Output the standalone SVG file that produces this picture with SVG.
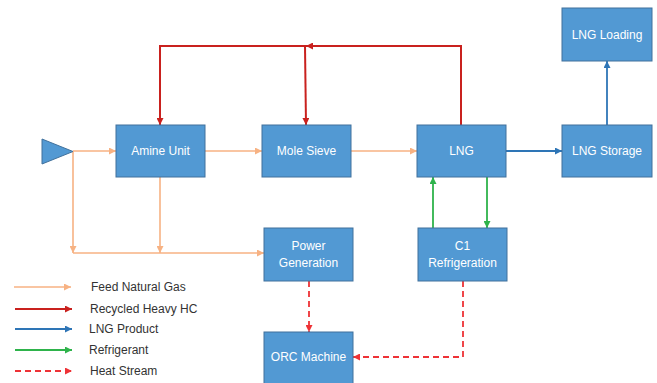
<svg xmlns="http://www.w3.org/2000/svg" width="657" height="383" viewBox="0 0 657 383">
<defs>
<style>
.box{fill:#5299D3;stroke:#41719C;stroke-width:1}
.lbl{font-family:"Liberation Sans",Arial,sans-serif;font-size:12px;fill:#FFFFFF;text-anchor:middle;dominant-baseline:central}
.leg{font-family:"Liberation Sans",Arial,sans-serif;font-size:12px;fill:#333333;dominant-baseline:central}
.feed{stroke:#F7B283;stroke-width:1.6;fill:none}
.rec{stroke:#C9211E;stroke-width:2;fill:none}
.prod{stroke:#2E75B6;stroke-width:1.8;fill:none}
.ref{stroke:#2EB34B;stroke-width:1.8;fill:none}
.heat{stroke:#EE3236;stroke-width:1.8;fill:none;stroke-dasharray:6,4}
</style>
<marker id="aF" viewBox="0 0 10 10" refX="10" refY="5" markerWidth="7" markerHeight="7" markerUnits="userSpaceOnUse" orient="auto"><path d="M0,0 L10,5 L0,10 z" fill="#F7B283"/></marker>
<marker id="aR" viewBox="0 0 10 10" refX="10" refY="5" markerWidth="7" markerHeight="7" markerUnits="userSpaceOnUse" orient="auto"><path d="M0,0 L10,5 L0,10 z" fill="#C9211E"/></marker>
<marker id="aP" viewBox="0 0 10 10" refX="10" refY="5" markerWidth="7" markerHeight="7" markerUnits="userSpaceOnUse" orient="auto"><path d="M0,0 L10,5 L0,10 z" fill="#2E75B6"/></marker>
<marker id="aG" viewBox="0 0 10 10" refX="10" refY="5" markerWidth="7" markerHeight="7" markerUnits="userSpaceOnUse" orient="auto"><path d="M0,0 L10,5 L0,10 z" fill="#2EB34B"/></marker>
<marker id="aH" viewBox="0 0 10 10" refX="10" refY="5" markerWidth="7" markerHeight="7" markerUnits="userSpaceOnUse" orient="auto"><path d="M0,0 L10,5 L0,10 z" fill="#EE3236"/></marker>
</defs>
<rect width="657" height="383" fill="#FFFFFF"/>
<g id="connectors">
<path class="feed" d="M73,151 L116,151" marker-end="url(#aF)"/>
<path class="feed" d="M73,151 L73,253" marker-end="url(#aF)"/>
<path class="feed" d="M160,177 L160,253" marker-end="url(#aF)"/>
<path class="feed" d="M73,253 L264,253" marker-end="url(#aF)"/>
<path class="feed" d="M205,151 L262,151" marker-end="url(#aF)"/>
<path class="feed" d="M351,151 L417,151" marker-end="url(#aF)"/>
<path class="rec" d="M461,125 L461,46 L306,46" marker-end="url(#aR)"/>
<path class="rec" d="M306,46 L160,46 L160,125" marker-end="url(#aR)"/>
<path class="rec" d="M305,46 L306,125" marker-end="url(#aR)"/>
<path class="prod" d="M506,151 L562,151" marker-end="url(#aP)"/>
<path class="prod" d="M607,125 L607,61" marker-end="url(#aP)"/>
<path class="ref" d="M433,228 L433,177" marker-end="url(#aG)"/>
<path class="ref" d="M487,177 L487,228" marker-end="url(#aG)"/>
<path class="heat" d="M309,281 L309,332" marker-end="url(#aH)"/>
<path class="heat" d="M463,281 L463,357 L353,357" marker-end="url(#aH)"/>
</g>
<g id="feed-source"><polygon points="42,139 73,151.5 42,164" fill="#5299D3" stroke="#41719C" stroke-width="1"/></g>
<g id="amine-unit"><rect class="box" x="116" y="125" width="89" height="52"/><text class="lbl" x="160.5" y="151">Amine Unit</text></g>
<g id="mole-sieve"><rect class="box" x="262" y="125" width="89" height="52"/><text class="lbl" x="306.5" y="151">Mole Sieve</text></g>
<g id="lng"><rect class="box" x="417" y="125" width="89" height="52"/><text class="lbl" x="461.5" y="151">LNG</text></g>
<g id="lng-storage"><rect class="box" x="562" y="125" width="90" height="52"/><text class="lbl" x="607" y="151">LNG Storage</text></g>
<g id="lng-loading"><rect class="box" x="562" y="8" width="90" height="53"/><text class="lbl" x="607" y="34.5">LNG Loading</text></g>
<g id="power-generation"><rect class="box" x="264" y="228" width="89" height="53"/><text class="lbl" x="308.5" y="246">Power</text><text class="lbl" x="308.5" y="263">Generation</text></g>
<g id="c1-refrigeration"><rect class="box" x="418" y="228" width="89" height="53"/><text class="lbl" x="462.5" y="246">C1</text><text class="lbl" x="462.5" y="263">Refrigeration</text></g>
<g id="orc-machine"><rect class="box" x="264" y="332" width="89" height="52"/><text class="lbl" x="308.5" y="357">ORC Machine</text></g>
<g id="legend">
<path class="feed" d="M14,287 L71,287" marker-end="url(#aF)"/>
<text class="leg" x="91" y="287">Feed Natural Gas</text>
<path class="rec" d="M15,309 L72,309" marker-end="url(#aR)"/>
<text class="leg" x="90" y="309">Recycled Heavy HC</text>
<path class="prod" d="M15,329 L72,329" marker-end="url(#aP)"/>
<text class="leg" x="89" y="329">LNG Product</text>
<path class="ref" d="M15,350 L72,350" marker-end="url(#aG)"/>
<text class="leg" x="89" y="350">Refrigerant</text>
<path class="heat" d="M15,371 L72,371" marker-end="url(#aH)"/>
<text class="leg" x="90" y="371">Heat Stream</text>
</g>
</svg>
